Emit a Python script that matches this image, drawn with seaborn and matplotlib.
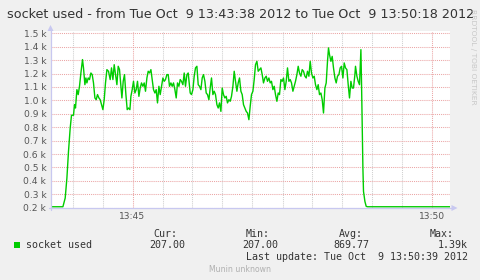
import matplotlib
matplotlib.use("Agg")
import matplotlib.pyplot as plt
from matplotlib.patches import Polygon
import seaborn as sns
import pandas as pd

# seconds after 13:43:38
t_offset_s = [0, 12.4, 14.7, 16.4, 18, 19.7, 21, 23, 24, 25, 26.4, 27.7, 29, 30.4, 32, 33, 34.4, 35.4,
              36.4, 37.7, 39, 40.4, 41.7, 43, 44.4, 45.7, 47, 48.4, 49.7, 51, 52.4, 53.7, 55, 56.4,
              58, 59.7, 61, 62.4, 63.7, 65, 66.4, 67.7, 69, 70.4, 71.4, 72.7, 74, 75.4, 76.7, 78,
              79.4, 80.4, 81.7, 83, 84.4, 85.7, 87, 88.4, 89.7, 91, 92.4, 93.7, 95, 96.4, 97.7, 99,
              100.4, 101.7, 103, 104.4, 105.7, 107, 108.4, 109.7, 111, 112.4, 113.7, 115, 116.4,
              117.7, 119, 120.4, 121.7, 123, 124.4, 125.7, 127, 128.4, 129.7, 131, 132.4, 133.7,
              135, 136.4, 137.7, 139.7, 141, 142.4, 143.7, 145, 146.4, 147.7, 149, 150.4, 151.7,
              153, 154.4, 155.7, 157, 158.4, 159.7, 161, 162.4, 163.7, 165, 166.4, 167.7, 169,
              170.4, 171.7, 173, 174.4, 175.7, 177, 178.4, 179.7, 181, 182.4, 183.7, 185, 186.4,
              187.7, 189, 190.4, 191.7, 193, 194.4, 195.7, 197, 198.4, 199.7, 201, 202.4, 203.7,
              205, 206.4, 207.7, 209, 210.4, 211.7, 213, 214.4, 215.7, 217, 218.4, 219.7, 221,
              222.4, 223.7, 225, 226.4, 227.7, 229, 230.4, 231.7, 233, 234.4, 235.7, 237, 238.4,
              239.7, 241, 242.4, 243.7, 245, 246.4, 247.7, 249, 250.4, 251.7, 253, 254.4, 255.7,
              257, 258.4, 259.7, 261, 262.4, 263.7, 265, 266.4, 267.7, 269, 270.4, 271.7, 273,
              274.4, 275.7, 277, 278, 279, 280.4, 281.7, 283, 284.4, 285.7, 287, 288.4, 289.7,
              291, 292.4, 293.7, 295, 296.4, 297.7, 299, 300.4, 301.7, 303, 304.4, 305, 306.4,
              307.7, 309, 310.4, 311, 311.7, 312.4, 313, 314.4, 315.7, 317, 400]
socket_used = [207, 207, 272, 421, 620, 794, 889, 889, 968, 943, 1080, 1043, 1105, 1204, 1304, 1242,
               1117, 1167, 1130, 1167, 1155, 1204, 1192, 1130, 1018, 1005, 1043, 1018, 1005, 968,
               931, 1005, 1130, 1229, 1217, 1155, 1242, 1155, 1266, 1192, 1117, 1254, 1230, 1105,
               1018, 1142, 1192, 1043, 931, 943, 931, 1030, 1080, 1142, 1055, 1080, 1142, 1030,
               1092, 1130, 1105, 1130, 1068, 1167, 1217, 1204, 1229, 1155, 1080, 1055, 1080, 981,
               1105, 1043, 1105, 1167, 1142, 1155, 1192, 1192, 1105, 1130, 1105, 1130, 1080, 1018,
               1130, 1105, 1155, 1142, 1117, 1204, 1105, 1192, 1204, 1055, 1043, 1080, 1180, 1242,
               1254, 1117, 1105, 1080, 1167, 1192, 1142, 1055, 1043, 1005, 1092, 1167, 1043, 1068,
               1043, 968, 943, 981, 918, 1092, 1043, 1018, 1030, 981, 1005, 993, 1030, 1105, 1217,
               1142, 1068, 1130, 1167, 1068, 1043, 968, 943, 918, 906, 856, 956, 1043, 1068, 1155,
               1266, 1291, 1217, 1229, 1242, 1192, 1130, 1167, 1180, 1142, 1167, 1130, 1142, 1080,
               1105, 1043, 993, 1055, 1043, 1155, 1142, 1167, 1080, 1142, 1242, 1142, 1155, 1130,
               1068, 1105, 1142, 1192, 1254, 1204, 1180, 1229, 1217, 1180, 1167, 1217, 1180, 1291,
               1204, 1167, 1180, 1117, 1080, 1117, 1043, 1055, 1005, 906, 1092, 1130, 1291, 1391,
               1341, 1291, 1328, 1242, 1167, 1130, 1180, 1192, 1242, 1254, 1167, 1279, 1242, 1229,
               1117, 1018, 1142, 1092, 1092, 1192, 1254, 1180, 1142, 1117, 1378, 1142, 794, 496,
               322, 247, 210, 207, 207]

y_ticks = [200, 300, 400, 500, 600, 700, 800, 900, 1000, 1100, 1200, 1300, 1400, 1500]
y_labels = ["0.2 k", "0.3 k", "0.4 k", "0.5 k", "0.6 k", "0.7 k", "0.8 k", "0.9 k", "1.0 k",
            "1.1 k", "1.2 k", "1.3 k", "1.4 k", "1.5 k"]
x_major = [82, 382]
x_major_labels = ["13:45", "13:50"]
x_minor = [22, 52, 112, 142, 172, 202, 232, 262, 292, 322, 352]

title = "socket used - from Tue Oct  9 13:43:38 2012 to Tue Oct  9 13:50:18 2012"
series_name = "socket used"
stat_headers = ["Cur:", "Min:", "Avg:", "Max:"]
stat_values = ["207.00", "207.00", "869.77", "1.39k"]
last_update = "Last update: Tue Oct  9 13:50:39 2012"

df = pd.DataFrame({"t": t_offset_s, "v": socket_used})

sns.set_style("white")
plt.rcParams["font.family"] = ["DejaVu Sans"]

W, H = 481, 280
BG = "#F0F0F0"
fig = plt.figure(figsize=(W / 100, H / 100), dpi=100, facecolor=BG)
L, R, T, B = 50.5, 450.5, 31, 208
ax = fig.add_axes([L / W, 1 - B / H, (R - L) / W, (B - T) / H])
ax.set_facecolor("white")
ax.set_xlim(0, 400)
ax.set_ylim(197.8, 1517)

dot = (0, (1, 1))
for x in x_minor:
    ax.axvline(x, color="#CFCFCF", lw=0.75, ls=dot, zorder=1)
for y in y_ticks:
    ax.axhline(y, color="#EBA5A5", lw=0.75, ls=dot, zorder=1)
for x in x_major:
    ax.axvline(x, color="#EBA5A5", lw=0.75, ls=dot, zorder=1)

sns.lineplot(data=df, x="t", y="v", ax=ax, color="#00CC00", lw=1.0, zorder=3)

ax.set_xlabel("")
ax.set_ylabel("")
for s in ax.spines.values():
    s.set_visible(False)
ax.set_yticks(y_ticks)
ax.set_yticklabels(y_labels)
ax.set_xticks(x_major)
ax.set_xticklabels(x_major_labels)
ax.tick_params(axis="both", length=0, labelsize=6.6, colors="#555555", pad=3)
ax.tick_params(axis="x", pad=3)

# axes lines with arrows (figure pixel coords)
def px(x, y):
    return (x / W, 1 - y / H)

axis_col = "#C8C8F0"
fig.add_artist(plt.Line2D([px(L, 0)[0], px(L, 0)[0]], [px(0, B + 2)[1], px(0, 29)[1]],
                          color=axis_col, lw=0.9))
fig.add_artist(plt.Line2D([px(L - 2, 0)[0], px(R + 2, 0)[0]], [px(0, B)[1], px(0, B)[1]],
                          color=axis_col, lw=0.9))
fig.add_artist(Polygon([px(L - 3, 31), px(L + 3, 31), px(L, 25)], closed=True,
                       color=axis_col, lw=0))
fig.add_artist(Polygon([px(R + 1, B - 3), px(R + 1, B + 3), px(R + 7, B)], closed=True,
                       color=axis_col, lw=0))

# title
fig.text(*px(241, 14), title, ha="center", va="center", fontsize=9.2, color="#333333")

# watermark
fig.text(*px(473, 57), "RRDTOOL / TOBI OETIKER", rotation=270, ha="center", va="center",
         fontsize=5.4, color="#C8C8C8")

mono = "DejaVu Sans Mono"
fs = 7.2
tc = "#333333"
hdr_right = [176, 269, 362, 453]
val_right = [184, 277, 368, 467]
for h, xr in zip(stat_headers, hdr_right):
    fig.text(*px(xr + 1, 234), h, ha="right", va="center", fontsize=fs, family=mono, color=tc)
for v, xr in zip(stat_values, val_right):
    fig.text(*px(xr + 1, 245.5), v, ha="right", va="center", fontsize=fs, family=mono, color=tc)
fig.add_artist(Polygon([px(14, 242), px(19.5, 242), px(19.5, 247.5), px(14, 247.5)],
                       closed=True, color="#00CC00", lw=0))
fig.text(*px(26, 245.5), series_name, ha="left", va="center", fontsize=fs, family=mono, color=tc)
fig.text(*px(468, 257), last_update, ha="right", va="center", fontsize=fs, family=mono, color=tc)
fig.text(*px(240.5, 269), "Munin unknown", ha="center", va="center", fontsize=5.6,
         color="#B0B0B0")

fig.savefig("out.png", dpi=100, facecolor=BG)
